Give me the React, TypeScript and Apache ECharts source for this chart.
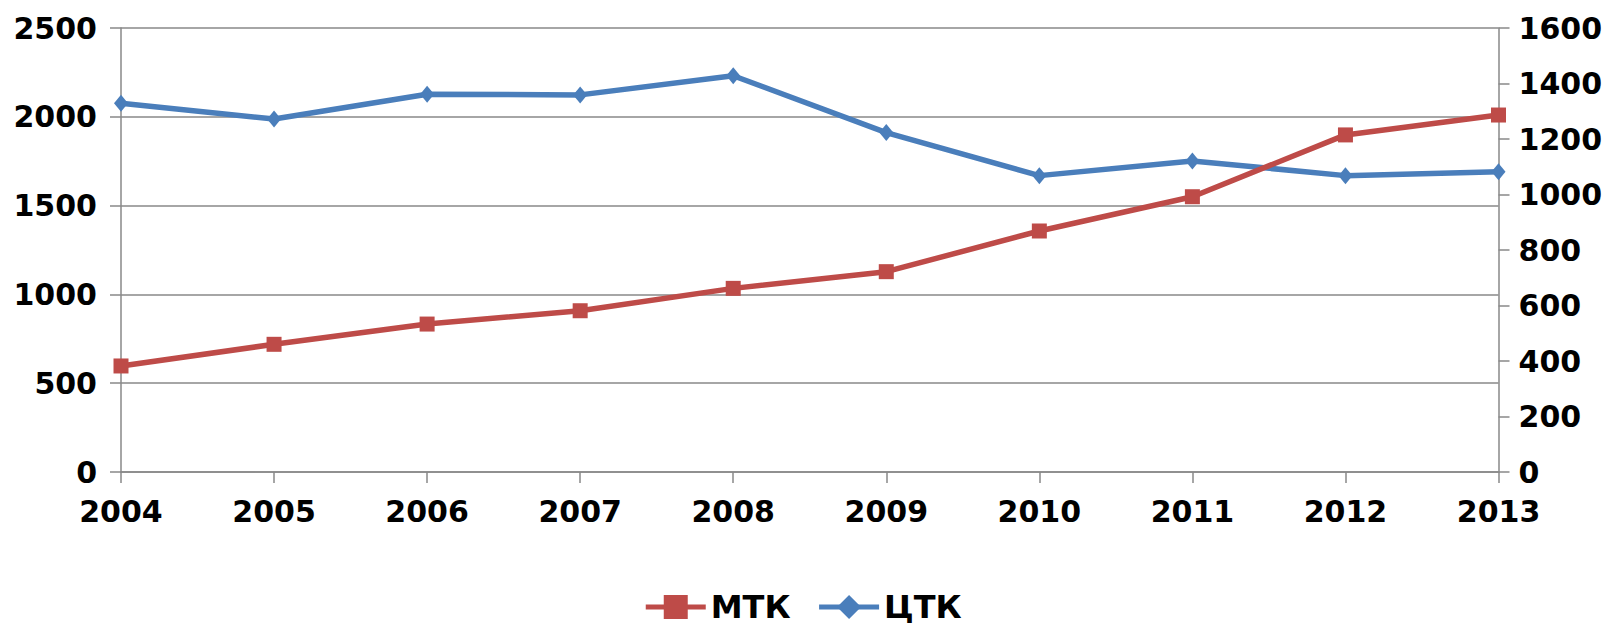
import React, { useEffect, useRef } from "react";
import * as echarts from "echarts";

const years = ["2004", "2005", "2006", "2007", "2008", "2009", "2010", "2011", "2012", "2013"];
const mtk = [597, 719, 833, 908, 1034, 1128, 1357, 1550, 1898, 2010];
const ctk = [1329, 1272, 1361, 1359, 1428, 1223, 1068, 1121, 1068, 1082];

const FONT = "DejaVu Sans";
const GRAY = "#888888";
const RED = "#be4b48";
const BLUE = "#4a7ebb";

export default function App() {
  const ref = useRef<HTMLDivElement>(null);
  useEffect(() => {
    if (!ref.current) return;
    const chart = echarts.init(ref.current, null, { renderer: "svg" });
    const label = { fontFamily: FONT, fontWeight: "bold" as const, fontSize: 30, color: "#000" };
    const fmt = (v: number) => String(v);
    chart.setOption({
      animation: false,
      backgroundColor: "#fff",
      grid: { left: 121, right: 98, top: 28, bottom: 154, containLabel: false },
      legend: {
        left: "center",
        top: 591,
        padding: 0,
        itemWidth: 60,
        itemHeight: 30,
        itemGap: 26,
        lineStyle: { width: 5 },
        textStyle: { ...label, fontSize: 32 },
        data: ["МТК", "ЦТК"],
      },
      xAxis: {
        type: "category",
        data: years,
        boundaryGap: false,
        axisLine: { lineStyle: { color: GRAY, width: 1.5 } },
        axisTick: { show: true, length: 11, lineStyle: { color: GRAY, width: 1.5 } },
        axisLabel: { ...label, margin: 24 },
        splitLine: { show: false },
      },
      yAxis: [
        {
          type: "value",
          min: 0,
          max: 2500,
          interval: 500,
          position: "left",
          axisLine: { show: true, lineStyle: { color: GRAY, width: 1.5 } },
          axisTick: { show: true, length: 11, lineStyle: { color: GRAY, width: 1.5 } },
          axisLabel: { ...label, margin: 24, formatter: fmt },
          splitLine: { show: true, lineStyle: { color: GRAY, width: 1.5 } },
        },
        {
          type: "value",
          min: 0,
          max: 1600,
          interval: 200,
          position: "right",
          axisLine: { show: true, lineStyle: { color: GRAY, width: 1.5 } },
          axisTick: { show: true, length: 11, lineStyle: { color: GRAY, width: 1.5 } },
          axisLabel: { ...label, margin: 20, formatter: fmt },
          splitLine: { show: false },
        },
      ],
      series: [
        {
          name: "ЦТК",
          type: "line",
          yAxisIndex: 1,
          data: ctk,
          symbol: "diamond",
          symbolSize: [14, 17],
          lineStyle: { color: BLUE, width: 5.5 },
          itemStyle: { color: BLUE },
          z: 2,
        },
        {
          name: "МТК",
          type: "line",
          yAxisIndex: 0,
          data: mtk,
          symbol: "rect",
          symbolSize: 15,
          lineStyle: { color: RED, width: 5.5 },
          itemStyle: { color: RED },
          z: 3,
        },
      ],
    });
    return () => chart.dispose();
  }, []);
  return (
    <div
      ref={ref}
      style={{ position: "fixed", left: 0, top: 0, width: 1605, height: 626, background: "#fff" }}
    />
  );
}
